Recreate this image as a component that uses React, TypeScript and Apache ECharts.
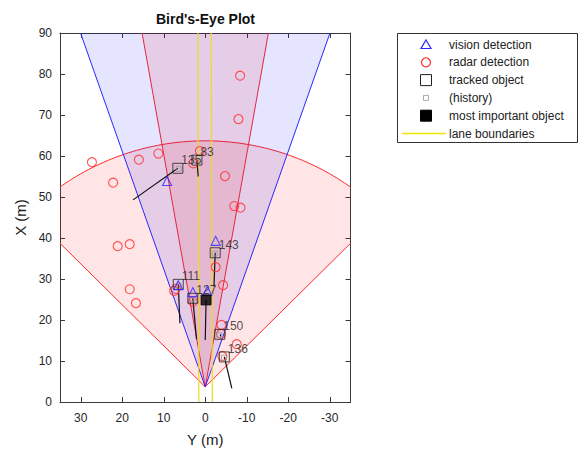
import React, { useEffect, useRef } from "react";
import * as echarts from "echarts";

// ---- data ----
const yTickValues = [30, 20, 10, 0, -10, -20, -30];
const sensorOrigin: [number, number] = [0, 3.7]; // [Y, X]
// coverage areas: [range (m), half field of view (deg)]
const mrRadarCoverage: [number, number] = [60, 45];
const lrRadarCoverage: [number, number] = [174, 10];
const visionCoverage: [number, number] = [150, 19.2];

const leftLane: [number, number][] = [[1.55, 0], [1.65, 45], [1.75, 90]];
const rightLane: [number, number][] = [[-1.7, 0], [-1.58, 45], [-1.45, 90]];

const radarDetections: [number, number][] = [
  [27.3, 58.5], [22.2, 53.5], [16.0, 59.1], [11.3, 60.6], [1.3, 61.2], [2.9, 58.2],
  [-4.75, 55.1], [-8.4, 79.6], [-8.0, 69.0], [-7.0, 47.8], [-8.5, 47.4],
  [21.1, 38.0], [18.2, 38.5], [18.2, 27.5], [16.7, 24.1], [7.5, 27.1],
  [-2.5, 32.9], [-4.3, 28.5], [3.0, 24.5], [-3.9, 18.8], [-7.6, 14.1],
  [-3.8, 16.6], [-4.1, 11.2], [7.1, 27.6],
];
const visionDetections: [number, number][] = [
  [9.2, 53.9], [-2.5, 39.3], [6.5, 28.5], [3.0, 26.8], [-0.5, 27.1],
];
const trackIds = ["135", "83", "143", "111", "127", "150", "136"];
const trackPositions: [number, number][] = [
  [6.6, 57.0], [2.0, 59.0], [-2.4, 36.4], [6.5, 28.7], [3.0, 25.3], [-3.5, 16.5], [-4.6, 11.0],
];
const trackVelocityEnds: [number, number][] = [
  [17.4, 49.3], [1.7, 55.0], [-2.1, 28.1], [6.1, 19.2], [2.1, 15.3], [-3.6, 16.0], [-6.4, 3.3],
];
const historyPositions: [number, number][] = [
  [6.4, 56.9], [2.2, 58.8], [-2.3, 36.2], [6.4, 28.4], [3.1, 25.1], [-3.4, 16.3], [-4.5, 10.8],
];
const mostImportant: [number, number][] = [[-0.2, 24.9]];
const mostImportantVelocityEnd: [number, number] = [0, 15.1];

const legendLabels = [
  "vision detection",
  "radar detection",
  "tracked object",
  "(history)",
  "most important object",
  "lane boundaries",
];

const FONT = "'Liberation Sans', Arial, Helvetica, sans-serif";
const RED = "#ff2a2a";
const BLUE = "#2828ff";
const YELLOW = "#ecdc1c";

function wedgeRender(params: any, api: any) {
  const range = api.value(0);
  const half = api.value(1);
  const fill = api.value(2) === 0 ? "rgba(255,0,0,0.1)" : "rgba(0,0,255,0.1)";
  const stroke = api.value(2) === 0 ? RED : BLUE;
  const pts: number[][] = [api.coord(sensorOrigin)];
  const n = 90;
  for (let i = 0; i <= n; i++) {
    const a = ((-half + (2 * half * i) / n) * Math.PI) / 180;
    const Y = sensorOrigin[0] + range * Math.sin(a);
    const X = sensorOrigin[1] + range * Math.cos(a);
    pts.push(api.coord([Y, X]));
  }
  const cs = params.coordSys;
  return {
    type: "group",
    clipPath: { type: "rect", shape: { x: cs.x, y: cs.y, width: cs.width, height: cs.height } },
    children: [
      {
        type: "polygon",
        shape: { points: pts },
        style: { fill, stroke, lineWidth: 1 },
      },
    ],
  };
}

export default function App() {
  const ref = useRef<HTMLDivElement>(null);
  useEffect(() => {
    if (!ref.current) return;
    const chart = echarts.init(ref.current, undefined, { renderer: "svg" });

    const axisCommon = {
      type: "value" as const,
      axisLine: { show: true, onZero: false, lineStyle: { color: "#3a3a3a", width: 1 } },
      splitLine: { show: false },
    };

    const legendTop = 44.5;
    const legendStep = 17.8;
    const mx = 426;
    const legendGraphics: any[] = [
      {
        type: "rect",
        shape: { x: 397.5, y: 33.5, width: 180, height: 109 },
        style: { fill: "#fff", stroke: "#333", lineWidth: 1 },
        z: 100,
      },
      {
        type: "polygon",
        shape: { points: [[mx, legendTop - 4.5], [mx + 5, legendTop + 4], [mx - 5, legendTop + 4]] },
        style: { fill: "none", stroke: BLUE, lineWidth: 1.2 },
        z: 101,
      },
      {
        type: "circle",
        shape: { cx: mx, cy: legendTop + legendStep, r: 4.5 },
        style: { fill: "none", stroke: RED, lineWidth: 1.2 },
        z: 101,
      },
      {
        type: "rect",
        shape: { x: mx - 5.5, y: legendTop + 2 * legendStep - 5.5, width: 11, height: 11 },
        style: { fill: "none", stroke: "#222", lineWidth: 1 },
        z: 101,
      },
      {
        type: "rect",
        shape: { x: mx - 2.5, y: legendTop + 3 * legendStep - 2.5, width: 5, height: 5 },
        style: { fill: "none", stroke: "#aaa", lineWidth: 1 },
        z: 101,
      },
      {
        type: "rect",
        shape: { x: mx - 5.5, y: legendTop + 4 * legendStep - 5.5, width: 11, height: 11 },
        style: { fill: "#000", stroke: "#000", lineWidth: 1 },
        z: 101,
      },
      {
        type: "line",
        shape: { x1: 402, y1: legendTop + 5 * legendStep, x2: 446, y2: legendTop + 5 * legendStep },
        style: { stroke: "#f2e600", lineWidth: 1.5 },
        z: 102,
      },
      ...legendLabels.map((t, i) => ({
        type: "text",
        x: 449,
        y: legendTop + i * legendStep,
        style: {
          text: t,
          font: `12px ${FONT}`,
          fill: "#222",
          textAlign: "left",
          textVerticalAlign: "middle",
        },
        z: 101,
      })),
      {
        type: "text",
        x: 205.5,
        y: 19,
        style: {
          text: "Bird's-Eye Plot",
          font: `bold 14px ${FONT}`,
          fill: "#111",
          textAlign: "center",
          textVerticalAlign: "middle",
        },
        z: 101,
      },
    ];

    chart.setOption({
      animation: false,
      textStyle: { fontFamily: FONT },
      grid: { left: 60, top: 33, right: 229.5, bottom: 48, containLabel: false, outerBoundsMode: "none" },
      xAxis: [
        {
          ...axisCommon,
          min: -35,
          max: 35,
          inverse: true,
          position: "bottom",
          name: "Y (m)",
          nameLocation: "middle",
          nameGap: 30,
          nameTextStyle: { fontSize: 15, color: "#222", fontFamily: FONT },
          axisTick: { show: true, inside: true, length: 5, customValues: yTickValues, lineStyle: { color: "#3a3a3a" } },
          axisLabel: { show: true, customValues: yTickValues, fontSize: 12, color: "#262626", margin: 10, fontFamily: FONT },
        },
        {
          ...axisCommon,
          min: -35,
          max: 35,
          inverse: true,
          position: "top",
          axisTick: { show: true, inside: true, length: 5, customValues: yTickValues, lineStyle: { color: "#3a3a3a" } },
          axisLabel: { show: false },
        },
      ],
      yAxis: [
        {
          ...axisCommon,
          min: 0,
          max: 90,
          interval: 10,
          position: "left",
          name: "X (m)",
          nameLocation: "middle",
          nameGap: 30,
          nameTextStyle: { fontSize: 15, color: "#222", fontFamily: FONT },
          axisTick: { show: true, inside: true, length: 5, lineStyle: { color: "#3a3a3a" } },
          axisLabel: { show: true, fontSize: 12, color: "#262626", margin: 8, fontFamily: FONT },
        },
        {
          ...axisCommon,
          min: 0,
          max: 90,
          interval: 10,
          position: "right",
          axisTick: { show: true, inside: true, length: 5, lineStyle: { color: "#3a3a3a" } },
          axisLabel: { show: false },
        },
      ],
      graphic: legendGraphics,
      series: [
        {
          type: "custom",
          name: "coverage",
          clip: true,
          silent: true,
          z: 1,
          renderItem: wedgeRender,
          data: [
            [...mrRadarCoverage, 0],
            [...lrRadarCoverage, 0],
            [...visionCoverage, 1],
          ],
        },
        {
          type: "line",
          name: "lane left",
          data: leftLane,
          showSymbol: false,
          lineStyle: { color: YELLOW, width: 1.2 },
          z: 2,
          silent: true,
        },
        {
          type: "line",
          name: "lane right",
          data: rightLane,
          showSymbol: false,
          lineStyle: { color: YELLOW, width: 1.2 },
          z: 2,
          silent: true,
        },
        {
          type: "lines",
          coordinateSystem: "cartesian2d",
          name: "velocity",
          silent: true,
          z: 3,
          lineStyle: { color: "#111", width: 1.2, opacity: 1 },
          data: [
            ...trackPositions.map((p, i) => ({ coords: [p, trackVelocityEnds[i]] })),
            { coords: [mostImportant[0], mostImportantVelocityEnd] },
          ],
        },
        {
          type: "scatter",
          name: "radar detection",
          data: radarDetections,
          symbol: "circle",
          symbolSize: 9,
          itemStyle: { color: "rgba(0,0,0,0)", borderColor: RED, borderWidth: 1.1 },
          z: 4,
          silent: true,
        },
        {
          type: "scatter",
          name: "(history)",
          data: historyPositions,
          symbol: "rect",
          symbolSize: 5,
          itemStyle: { color: "rgba(0,0,0,0)", borderColor: "#999", borderWidth: 1 },
          z: 5,
          silent: true,
        },
        {
          type: "scatter",
          name: "tracked object",
          data: trackPositions.map((p, i) => ({ value: p, name: trackIds[i] })),
          symbol: "rect",
          symbolSize: 10,
          itemStyle: { color: "rgba(0,0,0,0)", borderColor: "#222", borderWidth: 1 },
          label: {
            show: true,
            position: "right",
            distance: 0,
            offset: [-2, -8],
            formatter: (p: any) => p.name,
            fontSize: 12,
            color: "#222",
            fontFamily: FONT,
          },
          z: 6,
          silent: true,
        },
        {
          type: "scatter",
          name: "vision detection",
          data: visionDetections,
          symbol: "triangle",
          symbolSize: 9,
          itemStyle: { color: "rgba(0,0,0,0)", borderColor: BLUE, borderWidth: 1.1 },
          z: 7,
          silent: true,
        },
        {
          type: "scatter",
          name: "most important object",
          data: mostImportant,
          symbol: "rect",
          symbolSize: 10,
          itemStyle: { color: "#000", borderColor: "#000", borderWidth: 1 },
          z: 8,
          silent: true,
        },
      ],
    });
    return () => chart.dispose();
  }, []);
  return (
    <div
      ref={ref}
      style={{ position: "fixed", left: 0, top: 0, width: 580, height: 450, background: "#fff" }}
    />
  );
}
